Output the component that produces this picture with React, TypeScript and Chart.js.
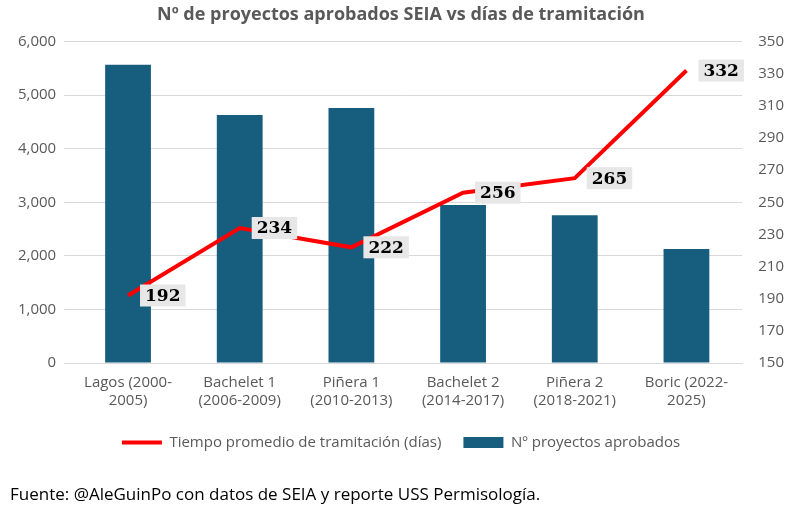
import React, { useEffect, useRef } from "react";
import { Chart, registerables } from "chart.js";
Chart.register(...registerables);

const categories = [["Lagos (2000-", "2005)"], ["Bachelet 1", "(2006-2009)"], ["Piñera 1", "(2010-2013)"], ["Bachelet 2", "(2014-2017)"], ["Piñera 2", "(2018-2021)"], ["Boric (2022-", "2025)"]];
const proyectos = [5570, 4630, 4760, 2950, 2760, 2130];
const dias = [192, 234, 222, 256, 265, 332];

const FONT = "'Open Sans', 'DejaVu Sans', sans-serif";

const labelPlugin = {
  id: "lbl",
  afterDatasetsDraw(chart: any) {
    const ctx = chart.ctx;
    const meta = chart.getDatasetMeta(1);
    ctx.save();
    ctx.font = "bold 17px 'DejaVu Serif', serif";
    ctx.textBaseline = "middle";
    meta.data.forEach((p: any, i: number) => {
      const t = String(dias[i]);
      const w = ctx.measureText(t).width;
      const x = p.x + 12, y = p.y;
      ctx.fillStyle = "#e7e7e7";
      ctx.fillRect(x, y - 11, w + 10, 22);
      ctx.fillStyle = "#000";
      ctx.fillText(t, x + 5, y + 1);
    });
    ctx.fillStyle = "#000";
    ctx.font = "17px " + FONT;
    ctx.textBaseline = "alphabetic";
    ctx.fillText("Fuente: @AleGuinPo con datos de SEIA y reporte USS Permisología.", 10, 500);
    ctx.restore();
  },
};

export default function App() {
  const ref = useRef<HTMLCanvasElement>(null);
  useEffect(() => {
    const c = new Chart(ref.current!, {
      type: "bar",
      data: {
        labels: categories as any,
        datasets: [
          { type: "bar", label: "Nº proyectos aprobados", data: proyectos, backgroundColor: "#175e7e", yAxisID: "y", categoryPercentage: 0.82, barPercentage: 0.5, order: 2, pointStyle: "rect" } as any,
          { type: "line", label: "Tiempo promedio de tramitación (días)", data: dias, borderColor: "#ff0000", backgroundColor: "#ff0000", borderWidth: 4, pointRadius: 0, yAxisID: "y1", order: 1, pointStyle: "line" } as any,
        ],
      },
      options: {
        animation: false,
        responsive: false,
        layout: { padding: { left: 10, right: 10, bottom: 48, top: 0 } },
        plugins: {
          title: { display: true, text: "Nº de proyectos aprobados SEIA vs días de tramitación", color: "#595959", font: { family: FONT, size: 18, weight: "bold" }, padding: { top: 4, bottom: 16 } },
          legend: { position: "bottom", labels: { usePointStyle: true, pointStyleWidth: 40, boxHeight: 11, color: "#595959", font: { family: FONT, size: 15 }, padding: 22 } },
          tooltip: { enabled: false },
        },
        scales: {
          x: { grid: { display: false }, border: { color: "#d9d9d9" }, ticks: { color: "#595959", font: { family: FONT, size: 15 }, maxRotation: 0 } },
          y: { min: 0, max: 6000, ticks: { stepSize: 1000, color: "#595959", font: { family: FONT, size: 15 }, padding: 8 }, grid: { color: "#d9d9d9" }, border: { display: false } },
          y1: { position: "right", min: 150, max: 350, ticks: { stepSize: 20, color: "#595959", font: { family: FONT, size: 15 }, padding: 8 }, grid: { display: false }, border: { display: false } },
        },
      } as any,
      plugins: [labelPlugin],
    });
    return () => c.destroy();
  }, []);
  return (
    <div style={{ position: "absolute", left: 0, top: 0, width: 802, height: 508, background: "#fff" }}>
      <canvas ref={ref} width={802} height={508} />
    </div>
  );
}
